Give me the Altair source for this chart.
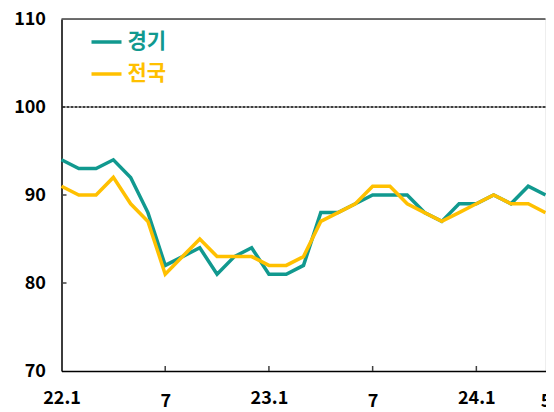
import altair as alt
import pandas as pd

months = ["22.1", "22.2", "22.3", "22.4", "22.5", "22.6", "22.7", "22.8", "22.9", "22.10", "22.11", "22.12",
          "23.1", "23.2", "23.3", "23.4", "23.5", "23.6", "23.7", "23.8", "23.9", "23.10", "23.11", "23.12",
          "24.1", "24.2", "24.3", "24.4", "24.5"]
gyeonggi = [94, 93, 93, 94, 92, 88, 82, 83, 84, 81, 83, 84, 81, 81, 82, 88, 88, 89, 90, 90, 90, 88, 87, 89,
            89, 90, 89, 91, 90]
national = [91, 90, 90, 92, 89, 87, 81, 83, 85, 83, 83, 83, 82, 82, 83, 87, 88, 89, 91, 91, 89, 88, 87, 88,
            89, 90, 89, 89, 88]
series_names = ["경기", "전국"]
series_colors = ["#11998f", "#ffc000"]
label_months = ["22.1", "22.7", "23.1", "23.7", "24.1", "24.5"]
label_texts = ["22.1", "7", "23.1", "7", "24.1", "5"]
tick_months = ["22.7", "23.1", "23.7", "24.1"]
y_ticks = [70, 80, 90, 100, 110]
inner_y_ticks = [80, 90]
ref_line = [100]
top_line = [110]

FONT = "Noto Sans CJK KR"

pos = {m: i for i, m in enumerate(months)}
df = pd.DataFrame({
    "month": months * 2,
    "pos": [pos[m] for m in months] * 2,
    "value": gyeonggi + national,
    "series": [series_names[0]] * len(months) + [series_names[1]] * len(months),
})

label_map = "{" + ", ".join("'%d': '%s'" % (pos[m], t) for m, t in zip(label_months, label_texts)) + "}"
year_pos = "[" + ", ".join(str(pos[m]) for m, t in zip(label_months, label_texts) if "." in t) + "]"

x_scale = alt.Scale(domain=[0, len(months) - 1], nice=False, zero=False)
x_axis = alt.Axis(values=[pos[m] for m in label_months], title=None, labelAngle=0, ticks=False,
                  grid=False, labelAlign="center", labelFlush=False, labelOverlap=False,
                  labelBound=False, labelExpr=label_map + "[datum.value + '']",
                  labelPadding=alt.expr("indexof(" + year_pos + ", datum.value) >= 0 ? 18 : 21"),
                  labelFontSize=18, labelFont=FONT, labelFontWeight="bold",
                  labelColor="#000000", domainColor="#000000", domainWidth=1.5)
y_scale = alt.Scale(domain=[70, 110], nice=False, zero=False)
y_axis = alt.Axis(values=y_ticks, title=None, ticks=False, grid=False, labelPadding=16,
                  labelFlush=False, labelOverlap=False,
                  labelFontSize=18, labelFont=FONT, labelFontWeight="bold", labelColor="#000000",
                  domainColor="#000000", domainWidth=1.5)

x_enc = alt.X("pos:Q", scale=x_scale, axis=x_axis)
y_enc = alt.Y("value:Q", scale=y_scale, axis=y_axis)

color_enc = alt.Color("series:N", scale=alt.Scale(domain=series_names, range=series_colors),
                      legend=alt.Legend(title=None, orient="none", legendX=28, legendY=6,
                                        symbolType="stroke", symbolSize=900, symbolStrokeWidth=3.5,
                                        labelFont=FONT, labelFontSize=21, labelFontWeight="bold",
                                        labelColor=alt.expr("datum.value == '경기' ? '#11998f' : '#ffc000'"),
                                        labelOffset=4, padding=0, rowPadding=5))

line_g = alt.Chart(df).transform_filter(alt.datum.series == series_names[0]).mark_line(
    strokeWidth=3.5).encode(x=x_enc, y=y_enc, color=color_enc)
line_n = alt.Chart(df).transform_filter(alt.datum.series == series_names[1]).mark_line(
    strokeWidth=3.5).encode(x=x_enc, y=y_enc, color=color_enc)

top_rule = alt.Chart(pd.DataFrame({"value": top_line})).mark_rule(color="#404040", strokeWidth=1.5).encode(
    y=y_enc)
dash_rule = alt.Chart(pd.DataFrame({"value": ref_line})).mark_rule(
    color="#000000", strokeWidth=1.5, strokeDash=[3, 1]).encode(y=y_enc)

ytick_rules = alt.Chart(pd.DataFrame({"value": inner_y_ticks})).mark_rule(
    color="#404040", strokeWidth=1.5).encode(y=y_enc, x=alt.value(0), x2=alt.value(5))
xtick_rules = alt.Chart(pd.DataFrame({"pos": [pos[m] for m in tick_months]})).mark_rule(
    color="#404040", strokeWidth=1.5).encode(x=x_enc, y=alt.value(352), y2=alt.value(347))

chart = alt.layer(
    line_g, line_n, top_rule, dash_rule, ytick_rules, xtick_rules
).properties(
    width=484, height=352,
    autosize=alt.AutoSizeParams(type="none"),
    padding={"left": 53.5, "top": 11, "right": 0, "bottom": 40},
).configure_view(stroke=None).configure(background="#ffffff")

chart.save("out.html", embed_options={"renderer": "svg", "actions": False})
